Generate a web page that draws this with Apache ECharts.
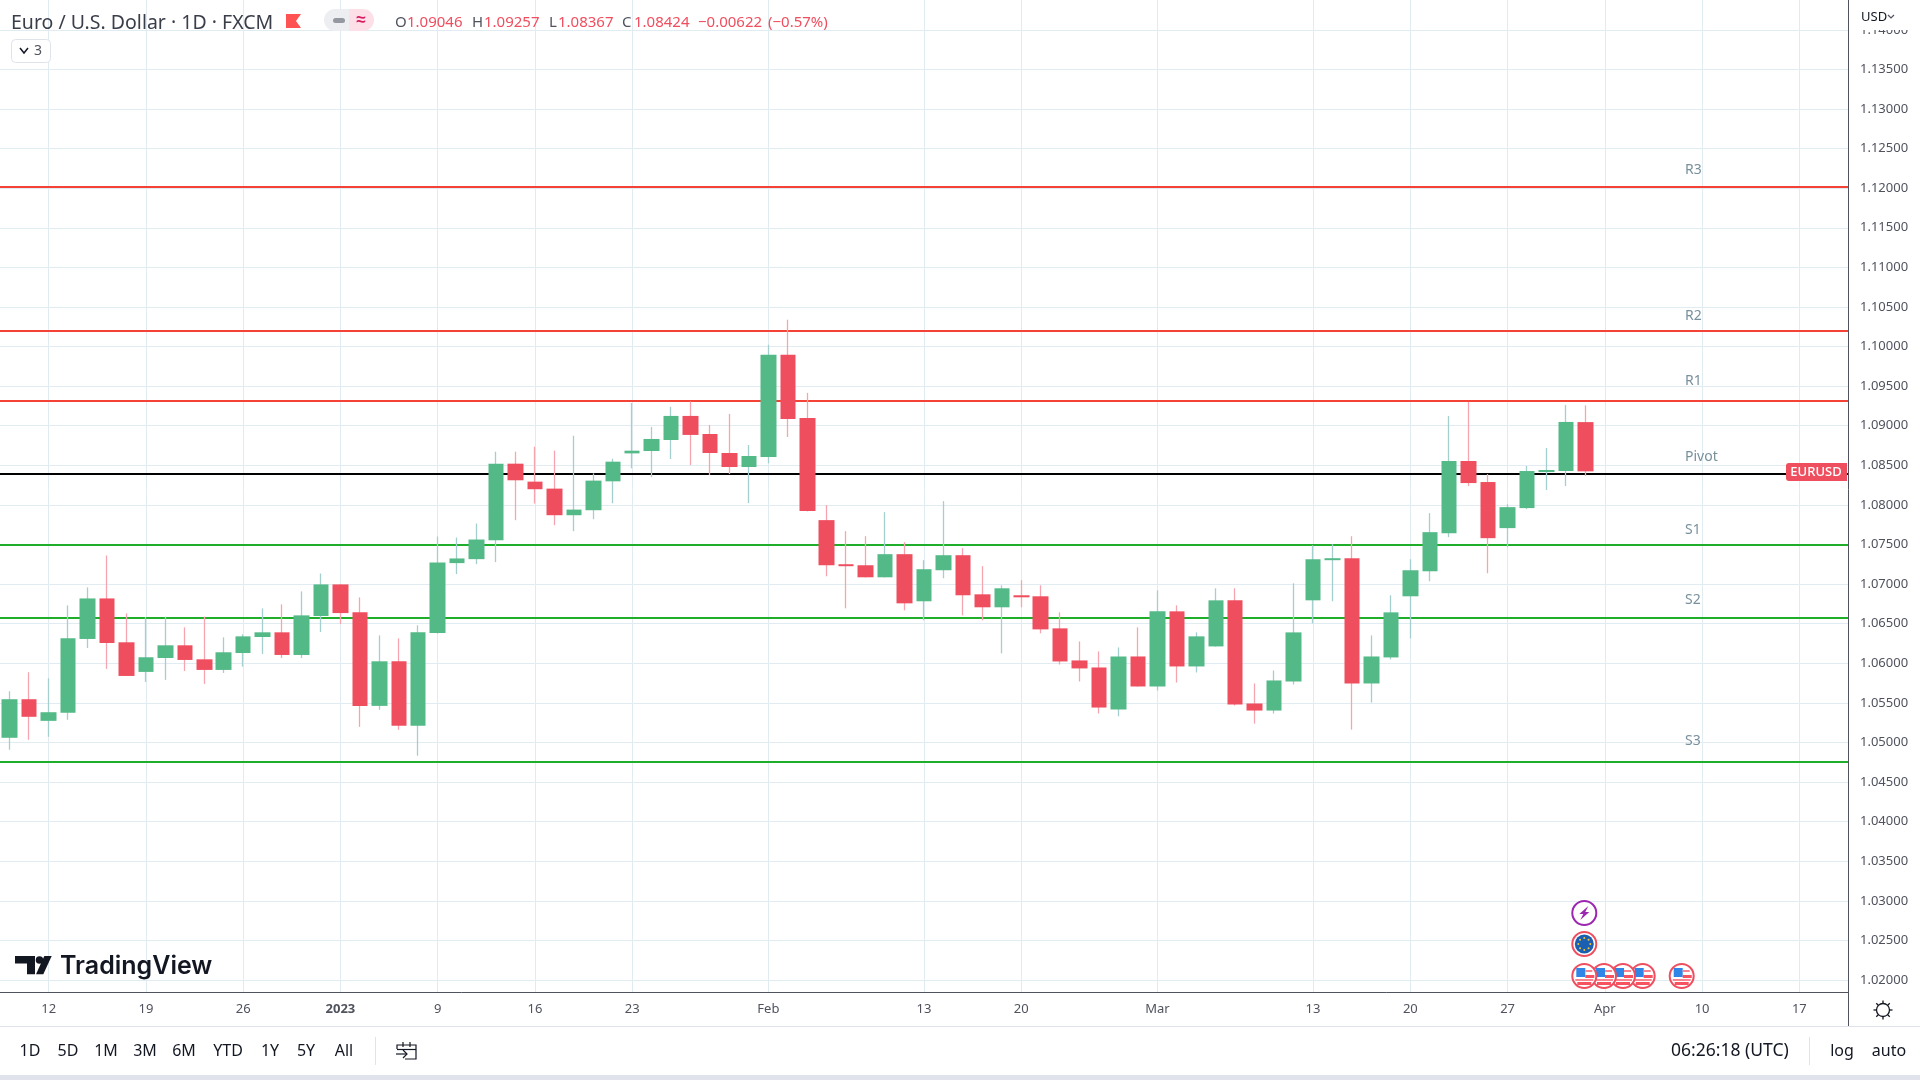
<!DOCTYPE html>
<html>
<head>
<meta charset="utf-8">
<title>Euro / U.S. Dollar</title>
<script src="https://cdn.jsdelivr.net/npm/echarts@6/dist/echarts.min.js"></script>
<style>
  html, body { margin: 0; padding: 0; background: #fff; }
  #chart { width: 1920px; height: 1080px; }
</style>
</head>
<body>
<div id="chart"></div>
<script>
const categories = [
  "Dec 8", "Dec 9",
  "Dec 12", "Dec 13", "Dec 14", "Dec 15", "Dec 16",
  "Dec 19", "Dec 20", "Dec 21", "Dec 22", "Dec 23",
  "Dec 26", "Dec 27", "Dec 28", "Dec 29", "Dec 30",
  "Jan 2", "Jan 3", "Jan 4", "Jan 5", "Jan 6",
  "Jan 9", "Jan 10", "Jan 11", "Jan 12", "Jan 13",
  "Jan 16", "Jan 17", "Jan 18", "Jan 19", "Jan 20",
  "Jan 23", "Jan 24", "Jan 25", "Jan 26", "Jan 27",
  "Jan 30", "Jan 31", "Feb 1", "Feb 2", "Feb 3",
  "Feb 6", "Feb 7", "Feb 8", "Feb 9", "Feb 10",
  "Feb 13", "Feb 14", "Feb 15", "Feb 16", "Feb 17",
  "Feb 20", "Feb 21", "Feb 22", "Feb 23", "Feb 24",
  "Feb 27", "Feb 28", "Mar 1", "Mar 2", "Mar 3",
  "Mar 6", "Mar 7", "Mar 8", "Mar 9", "Mar 10",
  "Mar 13", "Mar 14", "Mar 15", "Mar 16", "Mar 17",
  "Mar 20", "Mar 21", "Mar 22", "Mar 23", "Mar 24",
  "Mar 27", "Mar 28", "Mar 29", "Mar 30", "Mar 31",
  "Apr 3", "Apr 4", "Apr 5", "Apr 6", "Apr 7",
  "Apr 10", "Apr 11", "Apr 12", "Apr 13", "Apr 14",
  "Apr 17", "Apr 18", "Apr 19"
];

// date axis labels, everything else stays unlabelled
const tickLabels = {
  "Dec 12": "12", "Dec 19": "19", "Dec 26": "26", "Jan 2": "2023", "Jan 9": "9",
  "Jan 16": "16", "Jan 23": "23", "Feb 1": "Feb", "Feb 13": "13", "Feb 20": "20",
  "Mar 1": "Mar", "Mar 13": "13", "Mar 20": "20", "Mar 27": "27", "Apr 3": "Apr",
  "Apr 10": "10", "Apr 17": "17"
};

const opens = [
  1.05059, 1.05546, 1.05273, 1.05374, 1.06307, 1.06819, 1.06265, 1.05891, 1.06067, 1.06227,
  1.06050, 1.05916, 1.06130, 1.06332, 1.06391, 1.06105, 1.06597, 1.06996, 1.06643, 1.05462,
  1.06025, 1.05210, 1.06382, 1.07265, 1.07315, 1.07555, 1.08521, 1.08294, 1.08206, 1.07870,
  1.07933, 1.08298, 1.08651, 1.08681, 1.08820, 1.09124, 1.08896, 1.08656, 1.08479, 1.08605,
  1.09896, 1.09099, 1.07808, 1.07251, 1.07238, 1.07086, 1.07378, 1.06783, 1.07175, 1.07365,
  1.06871, 1.06707, 1.06859, 1.06846, 1.06441, 1.06036, 1.05947, 1.05416, 1.06086, 1.05707,
  1.06656, 1.05960, 1.06213, 1.06795, 1.05492, 1.05403, 1.05770, 1.06795, 1.07302, 1.07327,
  1.05745, 1.06074, 1.06846, 1.07162, 1.07643, 1.08555, 1.08289, 1.07707, 1.07960, 1.08415,
  1.08428, 1.09046
];
const closes = [
  1.05546, 1.05324, 1.05382, 1.06315, 1.06819, 1.06256, 1.05840, 1.06076, 1.06227, 1.06042,
  1.05916, 1.06139, 1.06340, 1.06391, 1.06105, 1.06605, 1.06996, 1.06634, 1.05462, 1.06025,
  1.05210, 1.06391, 1.07273, 1.07324, 1.07563, 1.08521, 1.08311, 1.08198, 1.07870, 1.07941,
  1.08307, 1.08546, 1.08685, 1.08833, 1.09124, 1.08884, 1.08656, 1.08479, 1.08618, 1.09896,
  1.09086, 1.07922, 1.07238, 1.07226, 1.07086, 1.07378, 1.06757, 1.07188, 1.07365, 1.06859,
  1.06707, 1.06947, 1.06833, 1.06428, 1.06023, 1.05935, 1.05441, 1.06086, 1.05707, 1.06656,
  1.05960, 1.06340, 1.06795, 1.05479, 1.05403, 1.05783, 1.06390, 1.07314, 1.07327, 1.05745,
  1.06086, 1.06643, 1.07175, 1.07656, 1.08555, 1.08276, 1.07580, 1.07972, 1.08428, 1.08441,
  1.09048, 1.08424
];
const lows = [
  1.04908, 1.05034, 1.05071, 1.05286, 1.06193, 1.05929, 1.05838, 1.05765, 1.05790, 1.05903,
  1.05740, 1.05878, 1.05958, 1.06118, 1.06067, 1.06067, 1.06395, 1.06496, 1.05197, 1.05412,
  1.05160, 1.04832, 1.06374, 1.07126, 1.07252, 1.07277, 1.07807, 1.08017, 1.07744, 1.07668,
  1.07819, 1.08021, 1.08462, 1.08352, 1.08580, 1.08504, 1.08378, 1.08390, 1.08023, 1.08525,
  1.08858, 1.07918, 1.07099, 1.06694, 1.07084, 1.07084, 1.06669, 1.06542, 1.07074, 1.06605,
  1.06542, 1.06125, 1.06707, 1.06378, 1.05985, 1.05770, 1.05365, 1.05331, 1.05705, 1.05656,
  1.05757, 1.05884, 1.06211, 1.05466, 1.05238, 1.05365, 1.05732, 1.06504, 1.06783, 1.05162,
  1.05504, 1.06048, 1.06314, 1.07036, 1.07593, 1.08238, 1.07137, 1.07466, 1.07947, 1.08188,
  1.08238, 1.08367
];
const highs = [
  1.05647, 1.05887, 1.05811, 1.06731, 1.06958, 1.07361, 1.06630, 1.06584, 1.06588, 1.06454,
  1.06588, 1.06328, 1.06366, 1.06693, 1.06744, 1.06908, 1.07134, 1.07000, 1.06832, 1.06353,
  1.06315, 1.06479, 1.07601, 1.07588, 1.07765, 1.08672, 1.08672, 1.08735, 1.08685, 1.08874,
  1.08399, 1.08584, 1.09287, 1.08985, 1.09238, 1.09306, 1.09010, 1.09150, 1.08757, 1.10023,
  1.10339, 1.09415, 1.07998, 1.07669, 1.07605, 1.07909, 1.07529, 1.07302, 1.08048, 1.07454,
  1.07226, 1.06985, 1.07049, 1.06985, 1.06643, 1.06276, 1.06150, 1.06200, 1.06454, 1.06922,
  1.06732, 1.06390, 1.06947, 1.06947, 1.05745, 1.05909, 1.07010, 1.07491, 1.07504, 1.07605,
  1.06352, 1.06859, 1.07314, 1.07896, 1.09124, 1.09301, 1.08390, 1.08010, 1.08491, 1.08719,
  1.09263, 1.09257
];

const levelNames = ["R3", "R2", "R1", "Pivot", "S1", "S2", "S3"];
const levelValues = [1.12015, 1.10197, 1.09316, 1.08394, 1.07494, 1.06572, 1.04753];

const FONT = '"Noto Sans", sans-serif';
const UP = "#53b987", DOWN = "#ef4e5f";
const UP_WICK = "#a5cfce", DOWN_WICK = "#f6a5b0";
const GRID = "#e0ebf2", AXIS = "#50535e", TEXT = "#131722", SOFT = "#50535e", LEVEL_TEXT = "#78909c";
const levelColors = ["#f44336", "#f44336", "#f44336", "#000000", "#1eae2a", "#1eae2a", "#1eae2a"];

// full candle in the light wick colour drawn thin, then the body on top of it
const wickData = categories.slice(0, opens.length).map((c, i) => [opens[i], closes[i], lows[i], highs[i]]);
const bodyData = wickData.map(d => [d[0], d[1], Math.min(d[0], d[1]), Math.max(d[0], d[1])]);

function label(x, y, text, color, font, align) {
  return {
    type: "text", z: 20, x, y,
    style: { text, fill: color, font, align: align || "left", verticalAlign: "middle" }
  };
}
function line(x1, y1, x2, y2, color, width) {
  return { type: "line", z: 20, shape: { x1, y1, x2, y2 }, style: { stroke: color, lineWidth: width || 1 } };
}
function box(x, y, width, height, fill, r) {
  return { type: "rect", z: 20, shape: { x, y, width, height, r: r || 0 }, style: { fill } };
}
function poly(points, fill) {
  return { type: "polygon", z: 20, shape: { points }, style: { fill } };
}
function stroke(points, color, width) {
  return { type: "polyline", z: 20, shape: { points }, style: { stroke: color, fill: "none", lineWidth: width || 1.4 } };
}
function disc(cx, cy, r, fill, border, width) {
  return { type: "circle", z: 20, shape: { cx, cy, r }, style: { fill, stroke: border, lineWidth: width || 0 } };
}

function usFlag(cx, cy) {
  return [
    disc(cx, cy, 12, "#fff", DOWN, 2),
    box(cx - 8, cy - 8, 9, 9, "#2f86e6"),
    box(cx + 1, cy - 6, 7, 2, "#f7848f"),
    box(cx + 1, cy - 1, 9, 3, "#f7525f"),
    box(cx - 9, cy + 3, 18, 2, "#f7848f"),
    box(cx - 7, cy + 6, 14, 3, "#f7525f")
  ];
}
function euFlag(cx, cy) {
  const out = [disc(cx, cy, 12, "#fff", DOWN, 2), disc(cx, cy, 9.5, "#1b5fb0")];
  for (let a = 0; a < 8; a++) {
    const t = a * Math.PI / 4;
    out.push(disc(cx + 6 * Math.cos(t), cy + 6 * Math.sin(t), 1, "#f4c542"));
  }
  return out;
}
function boltIcon(cx, cy) {
  return [
    disc(cx, cy, 12, "#fff", "#9c27b0", 2),
    poly([[cx + 4, cy - 7], [cx - 5, cy + 1], [cx - 1, cy + 1], [cx - 4, cy + 7], [cx + 5, cy - 1], [cx + 1, cy - 1]], "#9c27b0")
  ];
}
function gearIcon(cx, cy) {
  const out = [disc(cx, cy, 6.5, "#fff", TEXT, 1.3)];
  for (let a = 0; a < 8; a++) {
    const t = a * Math.PI / 4;
    out.push(line(cx + 6.5 * Math.cos(t), cy + 6.5 * Math.sin(t), cx + 9.5 * Math.cos(t), cy + 9.5 * Math.sin(t), TEXT, 1.3));
  }
  return out;
}

const rangeButtons = [["1D", 30], ["5D", 68], ["1M", 106], ["3M", 145], ["6M", 184], ["YTD", 228], ["1Y", 270], ["5Y", 306], ["All", 344]];
const levelLabelY = [170, 316, 381, 457, 530, 600, 741];

const graphicElements = [
  // right scale corner, hides the top of the clipped tick
  box(1850, 0, 70, 30, "#fff"),
  label(1861, 17, "USD", TEXT, "13px " + FONT),
  stroke([[1888, 15], [1891, 18], [1894, 15]], SOFT, 1.2),

  // legend row
  label(11, 23, "Euro / U.S. Dollar · 1D · FXCM", "#3a3e4a", "19.5px " + FONT),
  poly([[286, 14], [301, 14], [296, 21], [301, 28], [286, 28]], "#ff5252"),
  box(324, 9, 25, 22, "#eceef2", [11, 0, 0, 11]),
  box(349, 9, 25, 22, "#fde0e7", [0, 11, 11, 0]),
  box(333, 18, 12, 5, "#9598a1", 2.5),
  label(361, 20, "≈", "#d81b60", "bold 17px " + FONT, "center"),
  label(395, 23, "O", SOFT, "15px " + FONT),
  label(407, 23, "1.09046", DOWN, "15px " + FONT),
  label(472, 23, "H", SOFT, "15px " + FONT),
  label(484, 23, "1.09257", DOWN, "15px " + FONT),
  label(549, 23, "L", SOFT, "15px " + FONT),
  label(558, 23, "1.08367", DOWN, "15px " + FONT),
  label(622, 23, "C", SOFT, "15px " + FONT),
  label(634, 23, "1.08424", DOWN, "15px " + FONT),
  label(698, 23, "−0.00622", DOWN, "15px " + FONT),
  label(768, 23, "(−0.57%)", DOWN, "15px " + FONT),
  { type: "rect", z: 20, shape: { x: 11.5, y: 39.5, width: 39, height: 23, r: 4 }, style: { fill: "#fff", stroke: "#dfe3ea", lineWidth: 1 } },
  stroke([[20, 48], [24, 53], [28, 48]], TEXT, 1.5),
  label(34, 51, "3", SOFT, "14px " + FONT),

  // watermark
  poly([[15, 956], [35, 956], [35, 974.3], [27, 974.3], [27, 963.5], [15, 963.5]], TEXT),
  disc(39.5, 960, 3.8, TEXT),
  poly([[44.3, 956], [51.7, 956], [43.3, 974.3], [36, 974.3]], TEXT),
  label(60, 966, "TradingView", TEXT, "600 25px Inter, " + FONT),

  // last price tag
  box(1786, 463, 61, 18, DOWN, [3, 0, 0, 3]),
  label(1816, 472, "EURUSD", "#fff", "500 13px " + FONT, "center"),

  // axis corner and bottom toolbar
  line(1848.5, 992, 1848.5, 1026, AXIS),
  line(0, 1026.5, 1920, 1026.5, "#e0e3eb"),
  box(0, 1075, 1920, 5, "#e0e3eb"),
  line(375.5, 1037, 375.5, 1065, "#e0e3eb"),
  line(1809.5, 1037, 1809.5, 1065, "#e0e3eb"),
  stroke([[397, 1049], [397, 1045], [416, 1045], [416, 1059], [405, 1059]], TEXT, 1.2),
  line(397, 1049.5, 416, 1049.5, TEXT, 1.2),
  line(403, 1042, 403, 1047, TEXT, 1.2),
  line(410, 1042, 410, 1047, TEXT, 1.2),
  line(396, 1054, 407, 1054, TEXT, 1.2),
  stroke([[403, 1050], [407, 1054], [403, 1058]], TEXT, 1.2),
  label(1671, 1051, "06:26:18 (UTC)", TEXT, "17.5px " + FONT),
  label(1842, 1051, "log", TEXT, "16px " + FONT, "center"),
  label(1889, 1051, "auto", TEXT, "16px " + FONT, "center")
].concat(
  rangeButtons.map(b => label(b[1], 1051, b[0], TEXT, "16px " + FONT, "center")),
  levelNames.map((n, i) => label(1685, levelLabelY[i], n, LEVEL_TEXT, "14px " + FONT)),
  gearIcon(1883, 1010),
  usFlag(1681.7, 976),
  usFlag(1642.7, 976),
  usFlag(1623, 976),
  usFlag(1604, 976),
  usFlag(1584.3, 976),
  euFlag(1584.3, 944),
  boltIcon(1584.3, 913)
);

const showTick = (i, name) => tickLabels[name] !== undefined;

const option = {
  animation: false,
  backgroundColor: "#fff",
  textStyle: { fontFamily: FONT },
  grid: [
    // 1.145 sits just above the page and 1.02 is the last gridline
    { left: 0, right: 72, top: -9.75, height: 989.75, outerBoundsMode: "none" },
    // empty strip between the 1.02 gridline and the time scale
    { left: 0, right: 72, top: 980, height: 12, outerBoundsMode: "none" }
  ],
  xAxis: [
    {
      type: "category", gridIndex: 0, data: categories,
      axisLine: { show: false }, axisTick: { show: false }, axisLabel: { show: false },
      splitLine: { show: true, alignWithLabel: true, interval: showTick, lineStyle: { color: GRID, width: 1 } }
    },
    {
      type: "category", gridIndex: 1, data: categories,
      axisLine: { show: true, lineStyle: { color: AXIS, width: 1 } },
      axisTick: { show: false },
      splitLine: { show: true, alignWithLabel: true, interval: showTick, lineStyle: { color: GRID, width: 1 } },
      axisLabel: {
        interval: showTick, margin: 11, color: SOFT, fontSize: 13, fontFamily: FONT,
        hideOverlap: false,
        formatter: name => tickLabels[name] === "2023" ? "{year|2023}" : (tickLabels[name] || ""),
        rich: { year: { fontWeight: "bold", fontSize: 13, fontFamily: FONT, color: SOFT } }
      }
    }
  ],
  yAxis: [
    {
      type: "value", gridIndex: 0, position: "right", min: 1.02, max: 1.145, interval: 0.005,
      axisLine: { show: true, lineStyle: { color: AXIS, width: 1 } },
      axisTick: { show: false },
      splitLine: { show: true, lineStyle: { color: GRID, width: 1 } },
      axisLabel: {
        inside: false, margin: 12, color: SOFT, fontSize: 13, fontFamily: FONT, padding: [1, 0, 0, 0],
        formatter: v => v.toFixed(5)
      }
    },
    {
      type: "value", gridIndex: 1, position: "right", min: 0, max: 1,
      axisLine: { show: true, lineStyle: { color: AXIS, width: 1 } },
      axisTick: { show: false }, axisLabel: { show: false }, splitLine: { show: false }
    }
  ],
  series: [
    {
      name: "EURUSD wick", type: "candlestick", xAxisIndex: 0, yAxisIndex: 0, z: 3,
      barWidth: 1, data: wickData,
      itemStyle: { color: UP_WICK, color0: DOWN_WICK, borderColor: UP_WICK, borderColor0: DOWN_WICK, borderWidth: 1.3 },
      markLine: {
        silent: true, symbol: "none", z: 1, animation: false, precision: 5,
        label: { show: false },
        data: levelValues.map((v, i) => ({
          name: levelNames[i], yAxis: v,
          lineStyle: { color: levelColors[i], width: 2, type: "solid" }
        }))
      }
    },
    {
      name: "EURUSD", type: "candlestick", xAxisIndex: 0, yAxisIndex: 0, z: 4,
      barWidth: 16, data: bodyData,
      itemStyle: { color: UP, color0: DOWN, borderColor: UP, borderColor0: DOWN, borderWidth: 0 }
    }
  ],
  graphic: { elements: graphicElements }
};

const chart = echarts.init(document.getElementById("chart"));
chart.setOption(option);
</script>
</body>
</html>
